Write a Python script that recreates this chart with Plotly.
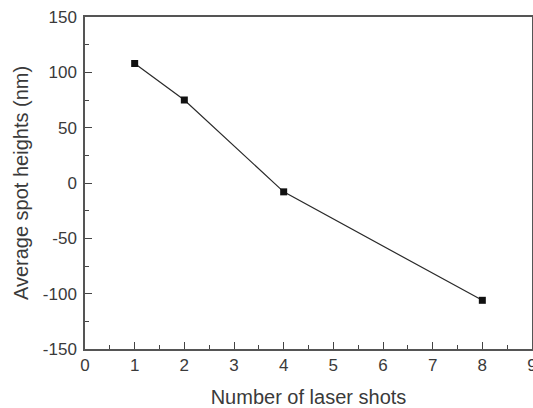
import plotly.graph_objects as go

shots = [1, 2, 4, 8]
spot_heights = [108, 75, -8, -106]

x_ticks = list(range(0, 10))
y_ticks = [-150, -100, -50, 0, 50, 100, 150]
y_tick_labels = [str(v) for v in y_ticks]  # plain hyphen minus like the original

fig = go.Figure()
fig.add_trace(go.Scatter(
    x=shots,
    y=spot_heights,
    mode='lines+markers',
    line=dict(color='#2a2a2a', width=1.2),
    marker=dict(symbol='square', size=7, color='#111111'),
    showlegend=False
))

font_family = 'Liberation Sans, Arial, sans-serif'
tick_font = dict(family=font_family, size=17, color='#3a3a3a')
title_font = dict(family=font_family, size=20, color='#3a3a3a')

fig.update_xaxes(
    range=[0, 9],
    tickvals=x_ticks,
    ticks='inside',
    ticklen=7,
    tickwidth=1.2,
    tickcolor='#444444',
    minor=dict(ticks='inside', ticklen=4, dtick=0.5, tickcolor='#444444'),
    showline=True,
    linecolor='#555555',
    linewidth=1.5,
    mirror=True,
    showgrid=False,
    zeroline=False,
    automargin=False,
    ticklabeloverflow='allow',
    tickfont=tick_font,
    title=dict(text='Number of laser shots', font=title_font, standoff=16)
)
fig.update_yaxes(
    range=[-150, 150],
    tickvals=y_ticks,
    ticktext=y_tick_labels,
    ticks='inside',
    ticklen=7,
    tickwidth=1.2,
    tickcolor='#444444',
    minor=dict(ticks='inside', ticklen=4, dtick=25, tickcolor='#444444'),
    showline=True,
    linecolor='#555555',
    linewidth=1.5,
    mirror=True,
    showgrid=False,
    zeroline=False,
    automargin=False,
    ticklabelstandoff=3,
    tickfont=tick_font,
    title=dict(text='Average spot heights (nm)', font=title_font, standoff=9)
)

fig.update_layout(
    width=533,
    height=408,
    margin=dict(l=85, r=1, t=17, b=59),
    plot_bgcolor='white',
    paper_bgcolor='white'
)

# drop the default 8px body margin so the figure sits at the page corner
fig.write_html(
    "out.html",
    config={'displayModeBar': False},
    post_script="document.body.style.margin='0';document.body.style.overflow='hidden';"
)
